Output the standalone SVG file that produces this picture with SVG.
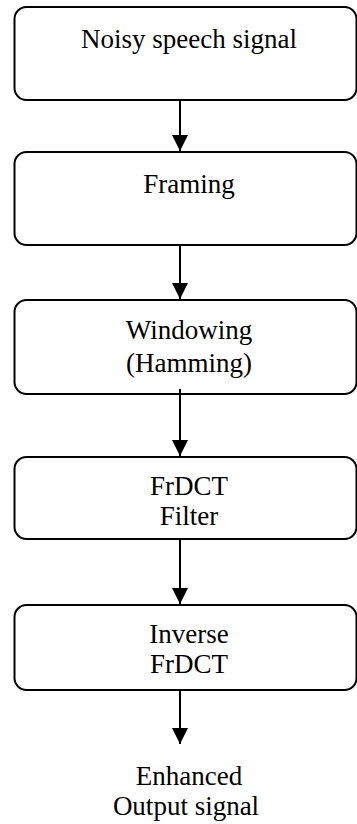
<svg xmlns="http://www.w3.org/2000/svg" width="357" height="824" viewBox="0 0 357 824">
<style>
.box{fill:#fff;stroke:#000;stroke-width:2}
.t{font-family:"Liberation Serif","Times New Roman",serif;font-size:27px;fill:#000;text-anchor:middle}
.c{stroke:#000;stroke-width:2;fill:none}
</style>
<defs>
<marker id="ah" viewBox="0 0 16 16" refX="16" refY="8" markerWidth="16" markerHeight="16" markerUnits="userSpaceOnUse" orient="auto">
<path d="M0,0 L16,8 L0,16 Z" fill="#000"/>
</marker>
</defs>
<rect width="357" height="824" fill="#fff"/>
<g id="n1"><rect class="box" x="14.5" y="7" width="342" height="93" rx="12"/><text class="t" x="189" y="48">Noisy speech signal</text></g>
<g id="n2"><rect class="box" x="14.5" y="152" width="342" height="93" rx="12"/><text class="t" x="189" y="193">Framing</text></g>
<g id="n3"><rect class="box" x="14.5" y="300" width="342" height="94" rx="12"/><text class="t" x="189" y="339">Windowing</text><text class="t" x="189" y="372">(Hamming)</text></g>
<g id="n4"><rect class="box" x="14.5" y="457" width="342" height="82" rx="12"/><text class="t" x="189" y="495">FrDCT</text><text class="t" x="189" y="525">Filter</text></g>
<g id="n5"><rect class="box" x="14.5" y="605" width="342" height="85" rx="12"/><text class="t" x="189" y="643">Inverse</text><text class="t" x="189" y="673">FrDCT</text></g>
<g id="n6"><text class="t" x="189" y="785">Enhanced</text><text class="t" x="186" y="815">Output signal</text></g>
<g id="connectors">
<line class="c" x1="180" y1="100" x2="180" y2="151" marker-end="url(#ah)"/>
<line class="c" x1="180" y1="245" x2="180" y2="299" marker-end="url(#ah)"/>
<line class="c" x1="180" y1="389" x2="180" y2="456" marker-end="url(#ah)"/>
<line class="c" x1="180" y1="539" x2="180" y2="604" marker-end="url(#ah)"/>
<line class="c" x1="180" y1="690" x2="180" y2="744" marker-end="url(#ah)"/>
</g>
</svg>
